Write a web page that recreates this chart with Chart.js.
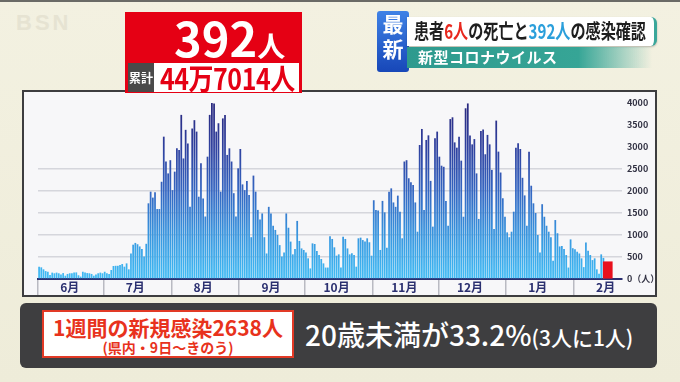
<!DOCTYPE html>
<html><head><meta charset="utf-8">
<script src="https://cdn.jsdelivr.net/npm/chart.js@4/dist/chart.umd.min.js"></script>
<style>
html,body{margin:0;padding:0;}
body{width:680px;height:382px;position:relative;overflow:hidden;background:linear-gradient(#f3f1e1,#eeecd9);font-family:"Noto Sans CJK JP","Noto Sans",sans-serif;}
.a{position:absolute;white-space:nowrap;}
#topline{left:0;top:0;width:680px;height:2px;background:#6a6a66;}
#logo{left:16px;top:10px;font:700 22px "Liberation Sans",sans-serif;color:#e6e3d2;letter-spacing:3px;}
#panel{left:22px;top:90px;width:635px;height:207px;box-sizing:border-box;border:2px solid #3d3d3f;background:#f7f7f9;}
#cv{left:24px;top:92px;}
#redbox{left:125px;top:12px;width:177px;height:81px;background:#e50014;}
#big{left:174px;top:6px;color:#fff;font-weight:700;font-size:47px;line-height:62px;}
#big span{font-size:28px;}
#ruikei{left:128px;top:63px;width:26px;height:29px;background:#4a4a4a;color:#fff;font-weight:700;font-size:12px;line-height:29px;text-align:center;}
#cum{left:154px;top:63px;width:145px;height:29px;background:#fff;}
#cumt{left:160px;top:58px;color:#e50014;font-weight:700;font-size:29px;line-height:38px;transform:scaleX(0.86);transform-origin:left center;letter-spacing:-0.5px;}
#tag{left:377px;top:11px;width:32px;height:61px;border-radius:3px;background:linear-gradient(#3f82e6,#1747b8);color:#fff;font-weight:700;font-size:21px;line-height:25px;text-align:center;}
#banner{left:407px;top:17px;width:247px;height:29px;background:#fff;border-radius:0 6px 6px 0;border-right:3px solid #3aa79a;box-shadow:0 1px 2px rgba(0,0,0,0.25);}
#head{left:414px;top:14px;font-weight:700;font-size:20px;line-height:34px;color:#1e1e1e;transform:scaleX(0.755);transform-origin:left center;}
.r{color:#e8281e}.b{color:#2b9fdb}
#band{left:407px;top:47px;width:245px;height:21px;background:linear-gradient(to right,#2e9a8e 0%,#36a596 70%,rgba(60,170,155,0) 100%);}
#bandt{left:418px;top:45px;color:#fff;font-weight:700;font-size:15px;line-height:24px;letter-spacing:0.5px;}
#dark{left:20px;top:303px;width:637px;height:65px;background:#3e3e40;border-radius:6px;}
#wbox{left:42px;top:310px;width:252px;height:48px;box-sizing:border-box;border:2px solid #e23a26;background:#fff;}
#w1{left:44px;top:314px;width:248px;text-align:center;color:#e8321c;font-weight:700;font-size:21px;line-height:26px;}
#w2{left:44px;top:338px;width:248px;text-align:center;color:#e8321c;font-weight:700;font-size:14px;line-height:18px;}
#stat{left:305px;top:316px;color:#fff;font-weight:500;font-size:28px;line-height:36px;}
#stat span{font-size:21px;}
</style></head><body>
<div class="a" id="topline"></div>
<div class="a" id="logo">BSN</div>
<div class="a" id="panel"></div>
<canvas class="a" id="cv" width="631" height="203"></canvas>
<div class="a" id="redbox"></div>
<div class="a" id="big">392<span>人</span></div>
<div class="a" id="ruikei">累計</div>
<div class="a" id="cum"></div>
<div class="a" id="cumt">44万7014人</div>
<div class="a" id="tag">最<br>新</div>
<div class="a" id="banner"></div>
<div class="a" id="head">患者<span class="r">6人</span>の死亡と<span class="b">392人</span>の感染確認</div>
<div class="a" id="band"></div>
<div class="a" id="bandt">新型コロナウイルス</div>
<div class="a" id="dark"></div>
<div class="a" id="wbox"></div>
<div class="a" id="w1">1週間の新規感染2638人</div>
<div class="a" id="w2">(県内・9日〜きのう)</div>
<div class="a" id="stat">20歳未満が33.2%<span>(3人に1人)</span></div>
<script>
// ---- data ----
const monthLabels = ['6月','7月','8月','9月','10月','11月','12月','1月','2月'];
const monthNums   = [6,7,8,9,10,11,12,1,2];
const monthDays   = [30,31,31,30,31,30,31,31,22]; // axis runs Jun 1 – Feb 22
const casesJun = [280,265,220,180,165,90,145,130,145,130,105,135,75,115,130,130,145,150,85,55,165,145,135,130,115,75,105,130,145,130];
const casesJul = [165,130,115,205,295,300,300,320,340,280,355,220,580,780,820,790,740,680,510,800,1720,1985,1850,1970,1590,1590,2210,3235,2670,2400,2700];
const casesAug = [2020,2440,2970,2930,3730,2740,3390,3080,1640,3420,3610,3350,1870,2630,1830,1420,2780,3730,4030,3990,3350,3540,1985,3650,3730,2820,2970,2670,1950,1420,2515];
const casesSep = [2955,2150,2020,2230,1910,950,2350,1985,1570,1355,1490,950,580,1640,1490,1210,1115,1000,770,510,605,1490,1165,850,560,680,1320,865,695,660];
const casesOct = [605,470,240,810,795,635,545,455,355,260,260,970,910,720,530,560,260,960,910,695,560,585,545,280,925,940,885,850,925,835,530];
const casesNov = [1790,1570,1555,660,1775,1515,710,1985,2060,1740,1640,1895,1530,925,2670,2700,2290,2200,2135,1740,1075,3045,3410,1570,3160,3265,2230,1190,3200,3350];
const casesDec = [2780,2575,2550,1775,1210,3635,3675,3105,2985,3235,2690,1415,3880,3990,3260,3060,3180,2400,1365,3365,3395,2835,3275,3060,2480,1135,3600,2895,2420,1835,1415];
const casesJan = [1060,950,1075,1530,2985,3085,2955,2300,1900,1210,2890,2120,1720,1500,1000,600,1700,1415,1210,1075,950,415,1340,1040,740,750,680,545,260,900,700];
const casesFeb = [675,620,580,470,270,830,640,545,430,470,220,120,560,480];
const todayLabel = '2/16';
const todayCases = 392;
const yTickStep = 500, yMax = 4000;

// ---- build categories ----
const labels = [], monthStart = [], monthMid = {};
monthNums.forEach((m, i) => {
  monthStart.push(labels.length);
  for (let d = 1; d <= monthDays[i]; d++) {
    if (d === 15) monthMid[labels.length] = monthLabels[i];
    labels.push(m + '/' + d);
  }
});
const daily = [].concat(casesJun, casesJul, casesAug, casesSep, casesOct, casesNov, casesDec, casesJan, casesFeb);
const blue = labels.map((l, i) => i < daily.length ? daily[i] : null);
const red = labels.map(l => l === todayLabel ? todayCases : null);

let grad = null, gradKey = '';
function barGradient(ctx) {
  const ch = ctx.chart, a = ch.chartArea;
  if (!a) return '#3a8ad8';
  const k = a.top + '_' + a.bottom;
  if (!grad || gradKey !== k) {
    grad = ch.ctx.createLinearGradient(0, a.bottom, 0, a.top);
    grad.addColorStop(0, '#40bcf5');
    grad.addColorStop(0.25, '#3896df');
    grad.addColorStop(0.5, '#3466c2');
    grad.addColorStop(0.75, '#2f409e');
    grad.addColorStop(1, '#29287e');
    gradKey = k;
  }
  return grad;
}
const FONT = '"Noto Sans CJK JP","Noto Sans",sans-serif';
new Chart(document.getElementById('cv'), {
  type: 'bar',
  data: {
    labels: labels,
    datasets: [
      { data: red, backgroundColor: '#e8101c', barThickness: 9, grouped: false },
      { data: blue, backgroundColor: barGradient, barPercentage: 0.8, categoryPercentage: 1, grouped: false }
    ]
  },
  options: {
    responsive: false, animation: false, devicePixelRatio: 1,
    layout: { padding: { left: 14, right: 0, top: 11, bottom: 0 } },
    plugins: { legend: { display: false }, tooltip: { enabled: false } },
    scales: {
      x: {
        type: 'category', offset: true,
        grid: { display: true, offset: true, drawOnChartArea: false, drawTicks: true, tickLength: 16, lineWidth: 1.5,
          color: c => monthStart.includes(c.index) ? '#b9bac2' : 'rgba(0,0,0,0)' },
        border: { display: true, color: '#2b2f70', width: 2 },
        ticks: { autoSkip: false, maxRotation: 0, minRotation: 0, padding: -15, color: '#2b3070',
          font: { family: FONT, size: 12, weight: 'bold' },
          callback: (v, i) => monthMid[i] || '' },
        afterFit: s => { s.height = 16; }
      },
      y: {
        position: 'right', min: 0, max: yMax,
        ticks: { stepSize: yTickStep, padding: 5, color: '#333344', font: { family: FONT, size: 9, weight: 'bold' },
          callback: v => v === 0 ? '0（人）' : v },
        grid: { drawTicks: false, lineWidth: 1.5,
          color: c => (c.tick && c.tick.value > 0 && c.tick.value <= 2500) ? '#d5d6dc' : 'rgba(0,0,0,0)' },
        border: { display: false },
        afterFit: s => { s.width = 33; }
      }
    }
  }
});
</script>
</body></html>
